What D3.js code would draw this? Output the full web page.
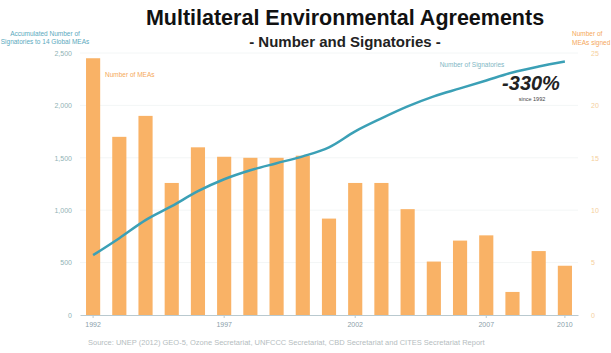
<!DOCTYPE html>
<html>
<head>
<meta charset="utf-8">
<script src="https://cdn.jsdelivr.net/npm/d3@7"></script>
<style>
  body { margin: 0; background: #fff; }
  svg { display: block; font-family: "Liberation Sans", Arial, sans-serif; }
</style>
</head>
<body>
<svg id="chart" width="611" height="353"></svg>
<script>
const years = [1992,1993,1994,1995,1996,1997,1998,1999,2000,2001,2002,2003,2004,2005,2006,2007,2008,2009,2010];
const measSigned = [24.5,17,19,12.6,16,15.1,15,15,15.2,9.2,12.6,12.6,10.1,5.1,7.1,7.6,2.2,6.1,4.7];
const signatories = [571,733,905,1038,1181,1295,1381,1448,1514,1600,1752,1876,1990,2086,2162,2238,2314,2371,2419];
const leftTicks = [0,500,1000,1500,2000,2500];
const rightTicks = [0,5,10,15,20,25];
const xTickYears = [1992,1997,2002,2007,2010];

const svg = d3.select("#chart");
const x = d3.scaleBand().domain(years).range([80, 578]).paddingInner(0.46).paddingOuter(0.23);
const yL = d3.scaleLinear().domain([0, 2500]).range([315, 53]);
const yR = d3.scaleLinear().domain([0, 25]).range([315, 53]);

// gridlines
svg.append("g").selectAll("line").data(leftTicks.slice(1)).join("line")
  .attr("x1", 80).attr("x2", 578)
  .attr("y1", d => yL(d)).attr("y2", d => yL(d))
  .attr("stroke", "#f3f6f6").attr("stroke-width", 1);

// bars
svg.append("g").selectAll("rect").data(years).join("rect")
  .attr("x", d => x(d))
  .attr("width", x.bandwidth())
  .attr("y", (d,i) => yR(measSigned[i]))
  .attr("height", (d,i) => yR(0) - yR(measSigned[i]))
  .attr("fill", "#f9b266");

// bottom axis
const xAxis = d3.axisBottom(x).tickValues(xTickYears).tickSize(3).tickSizeOuter(0);
const gx = svg.append("g").attr("transform", "translate(0,315)").call(xAxis);
gx.select(".domain").attr("stroke", "#b9c9cf");
gx.selectAll(".tick line").attr("stroke", "#b9c9cf");
gx.selectAll("text").attr("fill", "#8aa0aa").attr("font-size", 7).attr("dy", "0.9em");

// left axis
const gL = svg.append("g").attr("transform", "translate(80,0)")
  .call(d3.axisLeft(yL).tickValues(leftTicks).tickFormat(d3.format(",")).tickSize(0).tickPadding(8));
gL.select(".domain").remove();
gL.selectAll("text").attr("fill", "#8fb3b6").attr("font-size", 7);

// right axis
const gR = svg.append("g").attr("transform", "translate(583,0)")
  .call(d3.axisRight(yR).tickValues(rightTicks).tickSize(0).tickPadding(8));
gR.select(".domain").remove();
gR.selectAll("text").attr("fill", "#f5cf9c").attr("font-size", 7);

// line
const line = d3.line().x((d,i) => x(years[i]) + x.bandwidth()/2).y(d => yL(d)).curve(d3.curveMonotoneX);
svg.append("path").datum(signatories)
  .attr("d", line).attr("fill", "none")
  .attr("stroke", "#3ba0b6").attr("stroke-width", 2.5);

// titles
svg.append("text").attr("x", 345).attr("y", 25).attr("text-anchor", "middle")
  .attr("font-size", 21.5).attr("font-weight", "bold").attr("fill", "#111")
  .text("Multilateral Environmental Agreements");
svg.append("text").attr("x", 345).attr("y", 47).attr("text-anchor", "middle")
  .attr("font-size", 15).attr("font-weight", "bold").attr("fill", "#222")
  .text("- Number and Signatories -");

// left axis title
svg.append("text").attr("x", 45).attr("y", 36).attr("text-anchor", "middle")
  .attr("font-size", 6.5).attr("fill", "#5aa9bd")
  .selectAll("tspan").data(["Accumulated Number of", "Signatories to 14 Global MEAs"]).join("tspan")
  .attr("x", 45).attr("dy", (d,i) => i ? 8 : 0).text(d => d);

// right axis title
svg.append("text").attr("x", 572).attr("y", 36).attr("text-anchor", "start")
  .attr("font-size", 6.5).attr("fill", "#f5a85a")
  .selectAll("tspan").data(["Number of", "MEAs signed"]).join("tspan")
  .attr("x", 572).attr("dy", (d,i) => i ? 9 : 0).text(d => d);

// annotations
svg.append("text").attr("x", 105).attr("y", 77).attr("font-size", 6.5).attr("fill", "#f5a85a").text("Number of MEAs");
svg.append("text").attr("x", 472).attr("y", 67).attr("text-anchor", "middle").attr("font-size", 6.5).attr("fill", "#7fb7c4").text("Number of Signatories");
svg.append("text").attr("x", 531).attr("y", 90).attr("text-anchor", "middle")
  .attr("font-size", 20).attr("font-weight", "bold").attr("font-style", "italic").attr("fill", "#222").text("-330%");
svg.append("text").attr("x", 532).attr("y", 101).attr("text-anchor", "middle")
  .attr("font-size", 5.5).attr("fill", "#444").text("since 1992");

// source
svg.append("text").attr("x", 88).attr("y", 345).attr("font-size", 7.5).attr("fill", "#b5bdc0")
  .text("Source: UNEP (2012) GEO-5, Ozone Secretariat, UNFCCC Secretariat, CBD Secretariat and CITES Secretariat Report");
</script>
</body>
</html>
